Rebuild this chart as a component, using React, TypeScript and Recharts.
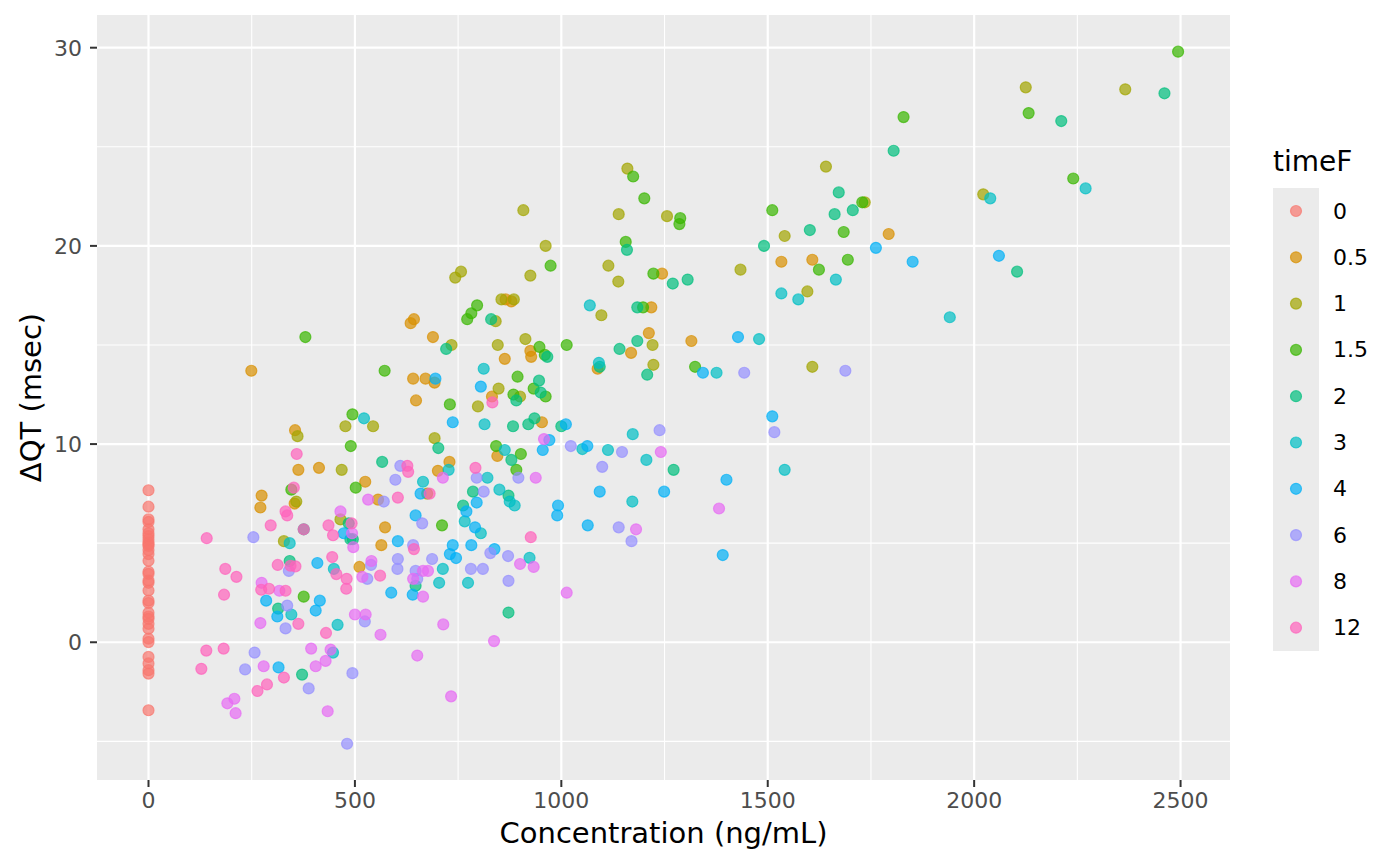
import { ScatterChart, Scatter, XAxis, YAxis, CartesianGrid } from 'recharts'

// timeF levels and ggplot hue palette
const levels = ['0', '0.5', '1', '1.5', '2', '3', '4', '6', '8', '12']
const colors = ['#F8766D', '#D89000', '#A3A500', '#39B600', '#00BF7D', '#00BFC4', '#00B0F6', '#9590FF', '#E76BF3', '#FF62BC']

const xTicks = [0, 500, 1000, 1500, 2000, 2500]
const xMinor = [250, 750, 1250, 1750, 2250]
const yTicks = [0, 10, 20, 30]
const yMinor = [-5, 5, 15, 25]

// [concentration, dQT] per time point
const t0: number[][] = [
  [0, 7.67], [0, 6.84], [0, 6.2], [0, 6.07], [0, 5.7], [0, 5.5], [0, 5.36], [0, 5.2], [0, 5.03], [0, 4.95],
  [0, 4.86], [0, 4.65], [0, 4.45], [0, 4.11], [0, 3.56], [0, 3.45], [0, 3.11], [0, 3.0], [0, 2.61], [0, 2.1],
  [0, 1.98], [0, 1.49], [0, 1.3], [0, 1.18], [0, 0.93], [0, 0.68], [0, 0.18], [0, 0.01], [0, -0.74], [0, -1.07],
  [0, -1.41], [0, -1.58], [0, -3.43],
]
const t05: number[][] = [
  [865, 17.3], [879, 17.2], [1218, 16.9], [1244, 18.6], [1533, 19.2], [1608, 19.3], [1793, 20.6],
  [249, 13.7], [641, 13.3], [671, 13.3], [648, 12.2], [635, 16.1], [643, 16.3], [355, 10.7], [363, 8.7],
  [413, 8.8], [525, 8.1], [274, 7.4], [271, 6.8], [354, 7.0], [556, 7.2], [573, 5.8], [564, 4.9],
  [689, 15.4], [925, 14.7], [927, 14.4], [863, 14.3], [693, 13.1], [832, 12.4], [953, 11.1], [845, 9.4],
  [729, 9.1], [701, 8.65], [1088, 13.8], [1212, 15.6], [1169, 14.6], [1315, 15.2], [511, 3.8],
]
const t1: number[][] = [
  [1160, 23.9], [908, 21.8], [1139, 21.6], [1256, 21.5], [1541, 20.5], [1434, 18.8], [962, 20.0], [925, 18.5],
  [757, 18.7], [743, 18.4], [855, 17.3], [885, 17.3], [1114, 19.0], [1138, 18.2], [1097, 16.5], [1596, 17.7],
  [2125, 28.0], [2366, 27.9], [1641, 24.0], [1735, 22.2], [2022, 22.6],
  [477, 10.9], [544, 10.9], [361, 10.4], [468, 8.7], [358, 7.1], [675, 7.5], [465, 6.2], [328, 5.1],
  [841, 16.2], [734, 15.0], [846, 15.0], [913, 15.3], [848, 12.8], [900, 12.4], [798, 11.9], [693, 10.3],
  [1221, 15.0], [1223, 14.0], [1608, 13.9],
]
const t15: number[][] = [
  [1174, 23.5], [1201, 22.4], [1288, 21.4], [1286, 21.1], [1511, 21.8], [974, 19.0], [796, 17.0], [782, 16.6],
  [772, 16.3], [1156, 20.2], [1223, 18.6], [1198, 16.9],
  [2494, 29.8], [2132, 26.7], [1829, 26.5], [1729, 22.2], [2240, 23.4], [1684, 20.7], [1694, 19.3], [1624, 18.8],
  [380, 15.4], [572, 13.7], [494, 11.5], [490, 9.9], [502, 7.8], [346, 7.7],
  [947, 14.9], [960, 14.5], [1013, 15.0], [894, 13.4], [884, 12.5], [933, 12.8], [962, 12.4], [730, 12.0],
  [842, 9.9], [902, 9.5], [891, 8.7], [711, 5.9], [1324, 13.9], [376, 2.3],
]
const t2: number[][] = [
  [1602, 20.8], [1491, 20.0], [1184, 16.9], [1270, 18.1], [1306, 18.3], [1159, 19.8],
  [2461, 27.7], [2211, 26.3], [1805, 24.8], [1672, 22.7], [1706, 21.8], [1662, 21.6], [2104, 18.7],
  [566, 9.1], [485, 6.0], [376, 5.7], [489, 5.2], [495, 5.2],
  [830, 16.3], [721, 14.8], [966, 14.4], [1093, 13.9], [946, 13.2], [950, 12.6], [891, 12.2], [883, 10.9],
  [920, 11.0], [935, 11.3], [1000, 10.9], [702, 9.8], [879, 9.2], [786, 7.6], [872, 7.4], [762, 6.9],
  [1184, 15.2], [1141, 14.8], [1208, 13.5], [1272, 8.7],
  [342, 4.1], [647, 2.85], [372, -1.63], [872, 1.5], [314, 1.7],
]
const t3: number[][] = [
  [1533, 17.6], [1574, 17.3], [1069, 17.0],
  [2270, 22.9], [2039, 22.4], [1665, 18.3], [1941, 16.4],
  [522, 11.3], [665, 8.1], [342, 5.0],
  [1091, 14.1], [812, 13.8], [814, 11.0], [727, 8.7], [863, 9.7], [1051, 9.75], [1113, 9.7], [821, 8.3],
  [850, 7.7], [875, 7.1], [887, 6.9], [766, 6.1], [805, 5.5],
  [1479, 15.3], [1376, 13.6], [1173, 10.5], [1206, 9.2], [1541, 8.7], [1172, 7.1],
  [713, 3.7], [704, 3.0], [774, 3.0], [458, 0.88], [346, 1.4], [447, -0.52], [923, 4.26], [449, 3.7],
]
const t4: number[][] = [
  [1762, 19.9], [1851, 19.2], [2060, 19.5],
  [659, 7.5], [473, 5.5], [604, 5.1], [647, 6.4],
  [695, 13.3], [805, 12.9], [737, 11.1], [1011, 11.0], [971, 10.2], [955, 9.7], [1063, 9.9], [1093, 7.6],
  [795, 7.05], [770, 6.6], [791, 5.8], [992, 6.9], [990, 6.4], [1064, 5.9],
  [1428, 15.4], [1343, 13.6], [1511, 11.4], [1400, 8.2], [1249, 7.6],
  [409, 4.0], [588, 2.5], [640, 2.4], [737, 4.9], [782, 4.9], [730, 4.45], [745, 4.25], [415, 2.1], [405, 1.6],
  [285, 2.1], [312, 1.3], [315, -1.27], [838, 4.7], [1391, 4.4],
]
const t6: number[][] = [
  [610, 8.9], [598, 8.2], [570, 7.1], [254, 5.3], [641, 4.9],
  [1023, 9.9], [1099, 8.85], [795, 8.3], [896, 8.3], [812, 7.6], [663, 6.0],
  [1443, 13.6], [1516, 10.6], [1238, 10.7], [1147, 9.6], [1139, 5.8], [1170, 5.1], [1688, 13.7],
  [340, 3.6], [336, 1.85], [332, 0.7], [257, -0.52], [234, -1.37],
  [539, 3.9], [530, 3.2], [604, 4.2], [603, 3.7], [647, 3.6], [651, 3.2], [687, 4.2], [781, 3.7],
  [524, 1.05], [388, -2.33], [494, -1.56], [481, -5.12],
  [828, 4.5], [871, 4.35], [810, 3.7], [872, 3.1],
]
const t8: number[][] = [
  [532, 7.2], [465, 6.6], [493, 5.5], [958, 10.25], [713, 8.3], [938, 8.3],
  [1241, 9.6], [1382, 6.75], [1181, 5.7],
  [274, 3.0], [317, 2.6], [271, 0.97], [279, -1.21], [208, -2.85], [191, -3.08], [211, -3.58],
  [496, 4.8], [540, 4.1], [518, 3.3], [641, 3.2], [665, 3.6], [677, 3.6], [665, 2.3], [714, 0.9],
  [500, 1.4], [526, 1.4], [562, 0.38], [394, -0.32], [441, -0.37], [429, -0.94], [405, -1.21], [434, -3.48],
  [651, -0.67], [733, -2.73], [900, 3.95], [933, 3.8], [1013, 2.5], [837, 0.06],
]
const t12: number[][] = [
  [359, 9.5], [627, 8.9], [629, 8.6], [352, 7.8], [604, 7.3], [332, 6.6], [336, 6.4], [296, 5.9],
  [376, 5.7], [436, 5.9], [447, 5.4], [492, 6.0],
  [833, 12.1], [792, 8.8], [681, 7.5], [926, 5.3],
  [141, 5.25], [186, 3.7], [213, 3.3], [183, 2.4], [313, 3.9], [273, 2.65], [292, 2.7], [332, 2.6],
  [140, -0.42], [182, -0.32], [128, -1.34], [328, -1.78], [287, -2.13], [264, -2.46],
  [344, 3.86], [356, 3.83], [445, 4.3], [455, 3.44], [480, 3.2], [479, 2.7], [643, 4.7], [561, 3.36],
  [363, 0.93], [430, 0.47],
]

const groups = [t0, t05, t1, t15, t2, t3, t4, t6, t8, t12]

const font = 'DejaVu Sans'

const dot = (color: string) => (p: any) => (
  <circle
    cx={p.cx}
    cy={p.cy}
    r={5.5}
    fill={color}
    fillOpacity={0.7}
    stroke={color}
    strokeOpacity={0.7}
    strokeWidth={1.2}
  />
)

export default function App() {
  return (
    <div style={{ position: 'absolute', left: 0, top: 0, width: 1400, height: 865, background: '#fff' }}>
      <ScatterChart
        width={1400}
        height={865}
        margin={{ top: 15, right: 170, bottom: 0, left: 0 }}
        style={{ fontFamily: font }}
      >
        <CartesianGrid
          fill="#EBEBEB"
          stroke="#FFFFFF"
          strokeWidth={1.1}
          horizontalValues={yMinor}
          verticalValues={xMinor}
        />
        <CartesianGrid
          stroke="#FFFFFF"
          strokeWidth={2.2}
          horizontalValues={yTicks}
          verticalValues={xTicks}
        />
        <XAxis
          type="number"
          dataKey="x"
          domain={[-124.75, 2619.75]}
          ticks={xTicks}
          interval={0}
          allowDataOverflow
          height={85}
          axisLine={false}
          tickSize={7}
          tickMargin={5}
          tickLine={{ stroke: '#333333', strokeWidth: 2 }}
          tick={{ fontSize: 22, fill: '#4D4D4D', fontFamily: font }}
        />
        <YAxis
          type="number"
          dataKey="y"
          domain={[-6.95, 31.65]}
          ticks={yTicks}
          interval={0}
          allowDataOverflow
          width={97}
          axisLine={false}
          tickSize={7}
          tickMargin={8}
          tickLine={{ stroke: '#333333', strokeWidth: 2 }}
          tick={{ fontSize: 22, fill: '#4D4D4D', fontFamily: font }}
        />
        {groups.map((g, i) => (
          <Scatter
            key={levels[i]}
            name={levels[i]}
            data={g.map(([x, y]) => ({ x, y }))}
            shape={dot(colors[i])}
            isAnimationActive={false}
          />
        ))}
      </ScatterChart>
      <svg
        width={1400}
        height={865}
        style={{ position: 'absolute', left: 0, top: 0, pointerEvents: 'none', fontFamily: font }}
      >
        <text x={663.5} y={843} textAnchor="middle" fontSize={29} fill="#000">
          Concentration (ng/mL)
        </text>
        <text
          x={0}
          y={0}
          transform="translate(31,397.5) rotate(-90)"
          textAnchor="middle"
          dominantBaseline="central"
          fontSize={29}
          fill="#000"
        >
          ΔQT (msec)
        </text>
        <text x={1273} y={170.5} fontSize={28} fill="#000">
          timeF
        </text>
        <rect x={1273} y={188} width={46} height={463} fill="#EBEBEB" />
        {levels.map((lv, i) => (
          <g key={lv}>
            <circle
              cx={1296}
              cy={211 + i * 46.3}
              r={5.5}
              fill={colors[i]}
              fillOpacity={0.7}
              stroke={colors[i]}
              strokeOpacity={0.7}
              strokeWidth={1.2}
            />
            <text x={1333} y={211 + i * 46.3} dominantBaseline="central" fontSize={22} fill="#000">
              {lv}
            </text>
          </g>
        ))}
      </svg>
    </div>
  )
}
